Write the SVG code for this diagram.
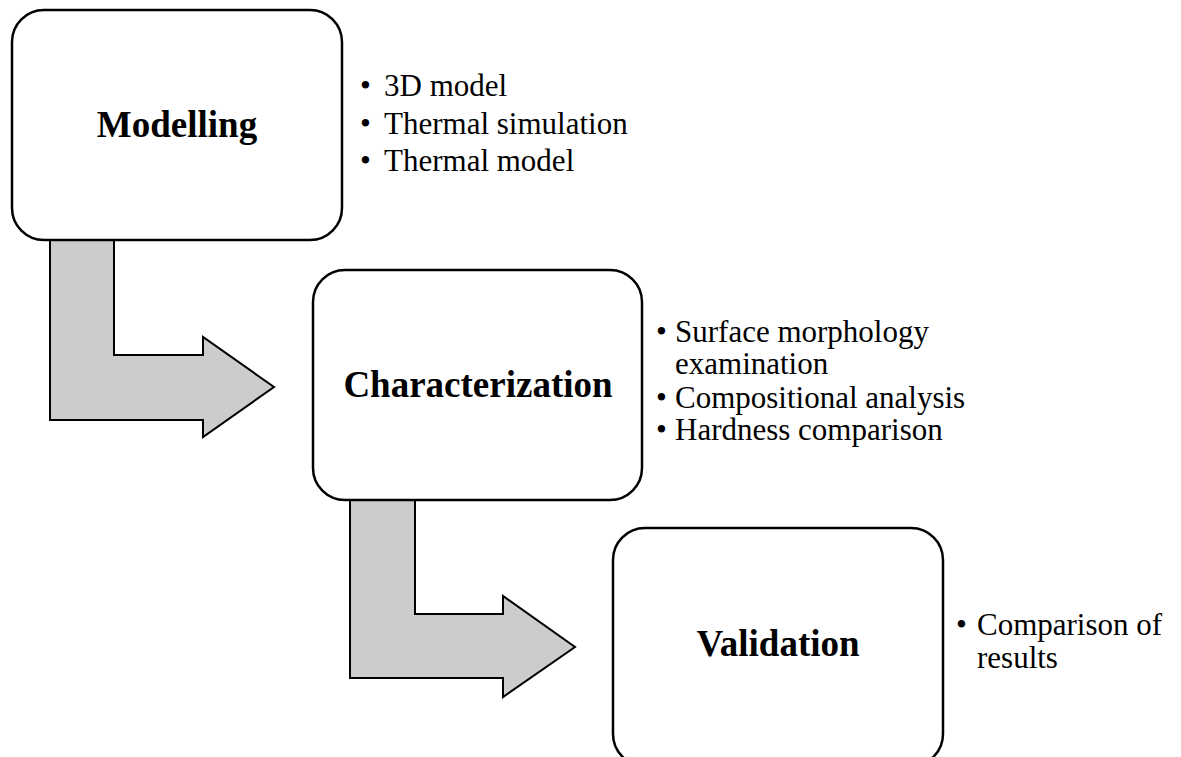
<svg xmlns="http://www.w3.org/2000/svg" width="1181" height="757" viewBox="0 0 1181 757">
<style>
.box{fill:#fff;stroke:#000;stroke-width:2.5}
.arrow{fill:#cccccc;stroke:#000;stroke-width:2;stroke-linejoin:miter}
.title{font-family:"Liberation Serif","Times New Roman",serif;font-weight:bold;font-size:37px;text-anchor:middle;fill:#000}
.item{font-family:"Liberation Serif","Times New Roman",serif;font-size:31px;fill:#000}
</style>
<rect width="1181" height="757" fill="#fff"/>
<g id="connectors">
<polygon class="arrow" points="50,240 114,240 114,355 203,355 203,337 274,387 203,437 203,420 50,420"/>
<polygon class="arrow" points="350,500 415,500 415,614 503,614 503,596 575,647 503,697 503,678 350,678"/>
</g>
<g id="modelling">
<rect class="box" x="12" y="10" width="330" height="230" rx="32" ry="32"/>
<text class="title" x="177" y="137">Modelling</text>
<text class="item" x="360" y="96">•</text><text class="item" x="384" y="96">3D model</text>
<text class="item" x="360" y="134">•</text><text class="item" x="384" y="134">Thermal simulation</text>
<text class="item" x="360" y="171">•</text><text class="item" x="384" y="171">Thermal model</text>
</g>
<g id="characterization">
<rect class="box" x="313" y="270" width="329" height="230" rx="32" ry="32"/>
<text class="title" x="478" y="397">Characterization</text>
<text class="item" x="656" y="342">•</text><text class="item" x="675" y="342">Surface morphology</text>
<text class="item" x="675" y="374">examination</text>
<text class="item" x="656" y="408">•</text><text class="item" x="675" y="408">Compositional analysis</text>
<text class="item" x="656" y="440">•</text><text class="item" x="675" y="440">Hardness comparison</text>
</g>
<g id="validation">
<rect class="box" x="613" y="528" width="330" height="238" rx="32" ry="32"/>
<text class="title" x="778" y="656">Validation</text>
<text class="item" x="956" y="635">•</text><text class="item" x="977" y="635">Comparison of</text>
<text class="item" x="977" y="668">results</text>
</g>
</svg>
